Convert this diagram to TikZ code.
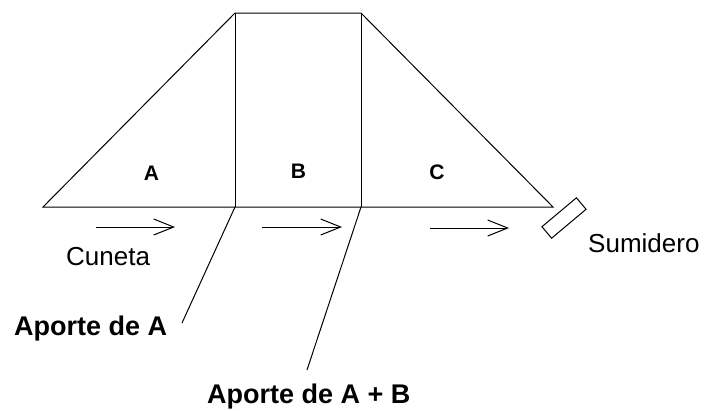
\documentclass[tikz,border=0pt]{standalone}
\usepackage{fontspec}
\setmainfont{Liberation Sans}
\usetikzlibrary{arrows.meta}
\tikzset{
  edge/.style={line width=1pt, black},
  flow/.style={line width=1pt, -{Straight Barb[length=20pt,width=16pt,line width=1pt]}},
  lbl/.style={inner sep=0pt, anchor=base west, font=\fontsize{26}{31}\selectfont},
  blbl/.style={inner sep=0pt, anchor=base west, font=\fontsize{27}{32}\selectfont\bfseries},
  zone/.style={inner sep=0pt, anchor=base, font=\fontsize{21}{25}\selectfont\bfseries},
}
\begin{document}
\begin{tikzpicture}[x=1pt,y=-1pt]
\useasboundingbox (0,0) rectangle (708,410);
% trapezoid corners
\coordinate (bl) at (43,207);
\coordinate (tl) at (235,13);
\coordinate (tr) at (361,13);
\coordinate (br) at (553,207);
\coordinate (pA) at (235,207);
\coordinate (pB) at (361,207);
\draw[edge] (bl) -- (tl) -- (tr) -- (br) -- cycle;
\draw[edge] (tl) -- (pA);
\draw[edge] (tr) -- (pB);
% zone labels
\node[zone] (A) at (151.5,180) {A};
\node[zone] (B) at (298.5,178) {B};
\node[zone] (C) at (437,179) {C};
% flow arrows
\coordinate (a1s) at (96,227);  \coordinate (a1e) at (175,227);
\coordinate (a2s) at (262,227); \coordinate (a2e) at (342,227);
\coordinate (a3s) at (430,228); \coordinate (a3e) at (509,228);
\draw[flow] (a1s) -- (a1e);
\draw[flow] (a2s) -- (a2e);
\draw[flow] (a3s) -- (a3e);
% sumidero
\node[draw, line width=1pt, minimum width=45pt, minimum height=15pt, inner sep=0pt, rotate=40] (sum) at (564,218) {};
\node[lbl] (sumt) at (588,252) {Sumidero};
\node[lbl] (cun) at (66,265) {Cuneta};
% aporte lines
\coordinate (eA) at (182,323);
\coordinate (eB) at (307,370);
\draw[edge] (pA) -- (eA);
\draw[edge] (pB) -- (eB);
\node[blbl] (apA) at (14,335) {Aporte de A};
\node[blbl] (apB) at (207,403) {Aporte de A + B};
\end{tikzpicture}
\end{document}
